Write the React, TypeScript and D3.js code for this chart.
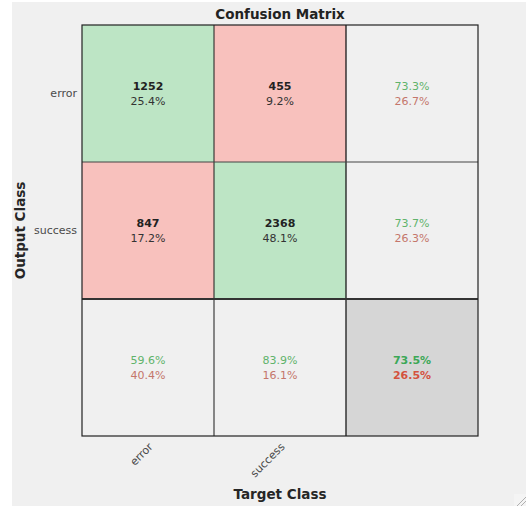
import React from "react";
import * as d3 from "d3";

const classes = ["error", "success"];
const counts = [
  [1252, 455],
  [847, 2368],
];
const title = "Confusion Matrix";
const xLabel = "Target Class";
const yLabel = "Output Class";

const W = 526;
const H = 506;
const FONT = "'DejaVu Sans', sans-serif";

const GREEN_CELL = "#bde5c5";
const RED_CELL = "#f8c1bd";
const GRAY_CELL = "#f0f0f0";
const CORNER_CELL = "#d6d6d6";
const GREEN_TXT = "#5fb36b";
const RED_TXT = "#c4766b";
const GREEN_BOLD = "#3ca857";
const RED_BOLD = "#d4523d";

const fmt = (v: number) => (v * 100).toFixed(1) + "%";

export default function App() {
  const n = classes.length;
  const idx = d3.range(n + 1);
  const x = d3.scaleBand<number>().domain(idx).range([82, 478]);
  const y = d3.scaleBand<number>().domain(idx).range([25, 436]);
  const total = d3.sum(counts.flat());
  const rowSums = counts.map((r) => d3.sum(r));
  const colSums = d3.range(n).map((j) => d3.sum(counts, (r) => r[j]));
  const correct = d3.sum(d3.range(n), (i) => counts[i][i]);
  const bw = x.bandwidth();
  const bh = y.bandwidth();

  const cells: React.ReactNode[] = [];
  for (let i = 0; i <= n; i++) {
    for (let j = 0; j <= n; j++) {
      const cx = x(j)! + bw / 2;
      const cy = y(i)! + bh / 2;
      let fill = GRAY_CELL;
      let l1 = "";
      let l2 = "";
      let c1 = "#222";
      let c2 = "#333";
      let w1: any = "bold";
      let w2: any = "normal";
      if (i < n && j < n) {
        fill = i === j ? GREEN_CELL : RED_CELL;
        l1 = String(counts[i][j]);
        l2 = fmt(counts[i][j] / total);
      } else if (i < n && j === n) {
        const a = counts[i][i] / rowSums[i];
        l1 = fmt(a);
        l2 = fmt(1 - a);
        c1 = GREEN_TXT;
        c2 = RED_TXT;
        w1 = "normal";
      } else if (i === n && j < n) {
        const a = counts[j][j] / colSums[j];
        l1 = fmt(a);
        l2 = fmt(1 - a);
        c1 = GREEN_TXT;
        c2 = RED_TXT;
        w1 = "normal";
      } else {
        fill = CORNER_CELL;
        const a = correct / total;
        l1 = fmt(a);
        l2 = fmt(1 - a);
        c1 = GREEN_BOLD;
        c2 = RED_BOLD;
        w1 = "bold";
        w2 = "bold";
      }
      cells.push(
        <g key={`${i}-${j}`}>
          <rect x={x(j)} y={y(i)} width={bw} height={bh} fill={fill} />
          <text x={cx} y={cy - 7.5} textAnchor="middle" dominantBaseline="central" fontSize={11} fontWeight={w1} fill={c1}>
            {l1}
          </text>
          <text x={cx} y={cy + 7.5} textAnchor="middle" dominantBaseline="central" fontSize={11} fontWeight={w2} fill={c2}>
            {l2}
          </text>
        </g>
      );
    }
  }

  const x0 = x(0)!;
  const x1 = x(n)! + bw;
  const y0 = y(0)!;
  const y1 = y(n)! + bh;

  return (
    <div style={{ position: "fixed", left: 0, top: 0 }}>
      <svg width={W} height={H} style={{ display: "block", fontFamily: FONT }}>
        <rect x={0} y={0} width={W} height={H} fill="#ffffff" />
        <rect x={12} y={2} width={W - 12} height={H - 2} fill="#f0f0f0" />
        <text x={(x0 + x1) / 2} y={14} textAnchor="middle" dominantBaseline="central" fontSize={13.5} fontWeight="bold" fill="#222">
          {title}
        </text>
        {cells}
        {/* grid lines */}
        {d3.range(1, n + 1).map((j) => (
          <line key={"v" + j} x1={x(j)} x2={x(j)} y1={y0} y2={y1} stroke="#1a1a1a" strokeWidth={j === n ? 1.3 : 1} />
        ))}
        {d3.range(1, n + 1).map((i) => (
          <line key={"h" + i} x1={x0} x2={x1} y1={y(i)} y2={y(i)} stroke={i === n ? "#333" : "#444"} strokeWidth={i === n ? 2.2 : 1} />
        ))}
        <rect x={x0} y={y0} width={x1 - x0} height={y1 - y0} fill="none" stroke="#222" strokeWidth={1.2} />
        {/* row tick labels */}
        {classes.map((c, i) => (
          <text key={"r" + c} x={x0 - 5} y={y(i)! + bh / 2} textAnchor="end" dominantBaseline="central" fontSize={11} fill="#4a4a4a">
            {c}
          </text>
        ))}
        {/* column tick labels */}
        {classes.map((c, j) => {
          const ax = x(j)! + bw / 2 + 3;
          const ay = y1 + 9;
          return (
            <text key={"c" + c} x={ax} y={ay} textAnchor="end" dominantBaseline="central" fontSize={11} fill="#4a4a4a" transform={`rotate(-45 ${ax} ${ay})`}>
              {c}
            </text>
          );
        })}
        <text x={(x0 + x1) / 2} y={494} textAnchor="middle" dominantBaseline="central" fontSize={13.5} fontWeight="bold" fill="#262626">
          {xLabel}
        </text>
        <text x={20} y={(y0 + y1) / 2} textAnchor="middle" dominantBaseline="central" fontSize={13.5} fontWeight="bold" fill="#262626" transform={`rotate(-90 20 ${(y0 + y1) / 2})`}>
          {yLabel}
        </text>
        {/* resize grip */}
        <rect x={514} y={494} width={12} height={12} fill="#f4f4f4" />
        <line x1={517} y1={506} x2={526} y2={497} stroke="#b0b0b0" strokeWidth={1} />
        <line x1={521} y1={506} x2={526} y2={501} stroke="#b0b0b0" strokeWidth={1} />
      </svg>
    </div>
  );
}
